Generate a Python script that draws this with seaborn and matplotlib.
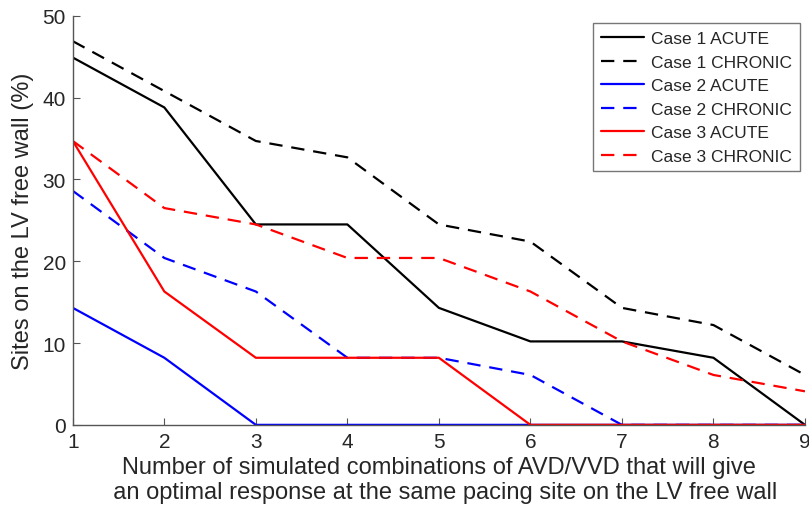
import matplotlib
matplotlib.use("Agg")
import matplotlib.pyplot as plt
import seaborn as sns
import pandas as pd

combos = [1, 2, 3, 4, 5, 6, 7, 8, 9]
case1_acute = [44.9, 38.8, 24.5, 24.5, 14.3, 10.2, 10.2, 8.2, 0]
case1_chronic = [46.9, 40.8, 34.7, 32.7, 24.5, 22.4, 14.3, 12.2, 6.1]
case2_acute = [14.3, 8.2, 0, 0, 0, 0, 0, 0, 0]
case2_chronic = [28.6, 20.4, 16.3, 8.2, 8.2, 6.1, 0, 0, 0]
case3_acute = [34.7, 16.3, 8.2, 8.2, 8.2, 0, 0, 0, 0]
case3_chronic = [34.7, 26.5, 24.5, 20.4, 20.4, 16.3, 10.2, 6.1, 4.1]

series = [
    ("Case 1 ACUTE", case1_acute, "black", "-"),
    ("Case 1 CHRONIC", case1_chronic, "black", "--"),
    ("Case 2 ACUTE", case2_acute, "blue", "-"),
    ("Case 2 CHRONIC", case2_chronic, "blue", "--"),
    ("Case 3 ACUTE", case3_acute, "red", "-"),
    ("Case 3 CHRONIC", case3_chronic, "red", "--"),
]

sns.set_style("white")
plt.rcParams["font.family"] = ["Liberation Sans", "DejaVu Sans"]

fig = plt.figure(figsize=(8.09, 5.10), dpi=100)
ax = fig.add_axes([0.090, 0.165, 0.905, 0.802])

for name, vals, color, ls in series:
    df = pd.DataFrame({"x": combos, "y": vals})
    sns.lineplot(data=df, x="x", y="y", ax=ax, color=color,
                 linewidth=1.6, label=name)
    if ls == "--":
        ax.lines[-1].set_dashes((6, 4))

ax.set_xlim(1, 9)
ax.set_ylim(0, 50)
ax.set_xticks(combos)
ax.set_yticks([0, 10, 20, 30, 40, 50])
ax.tick_params(direction="in", length=5, labelsize=15, color="#555555",
               bottom=True, left=True, pad=5)
for s in ["top", "right"]:
    ax.spines[s].set_visible(False)
for s in ["left", "bottom"]:
    ax.spines[s].set_color("#555555")
    ax.spines[s].set_linewidth(1.0)

ax.set_xlabel("Number of simulated combinations of AVD/VVD that will give\n"
              "  an optimal response at the same pacing site on the LV free wall",
              fontsize=17, labelpad=4, linespacing=1.15)
ax.set_ylabel("Sites on the LV free wall (%)", fontsize=17, labelpad=6)

leg = ax.legend(loc="upper right", bbox_to_anchor=(0.993, 0.982), fontsize=12.5,
                frameon=True, fancybox=False, edgecolor="#555555",
                handlelength=2.5, handletextpad=0.4, borderpad=0.45,
                labelspacing=0.48, borderaxespad=0)
leg.get_frame().set_linewidth(1.0)

fig.savefig("out.png", dpi=100)
